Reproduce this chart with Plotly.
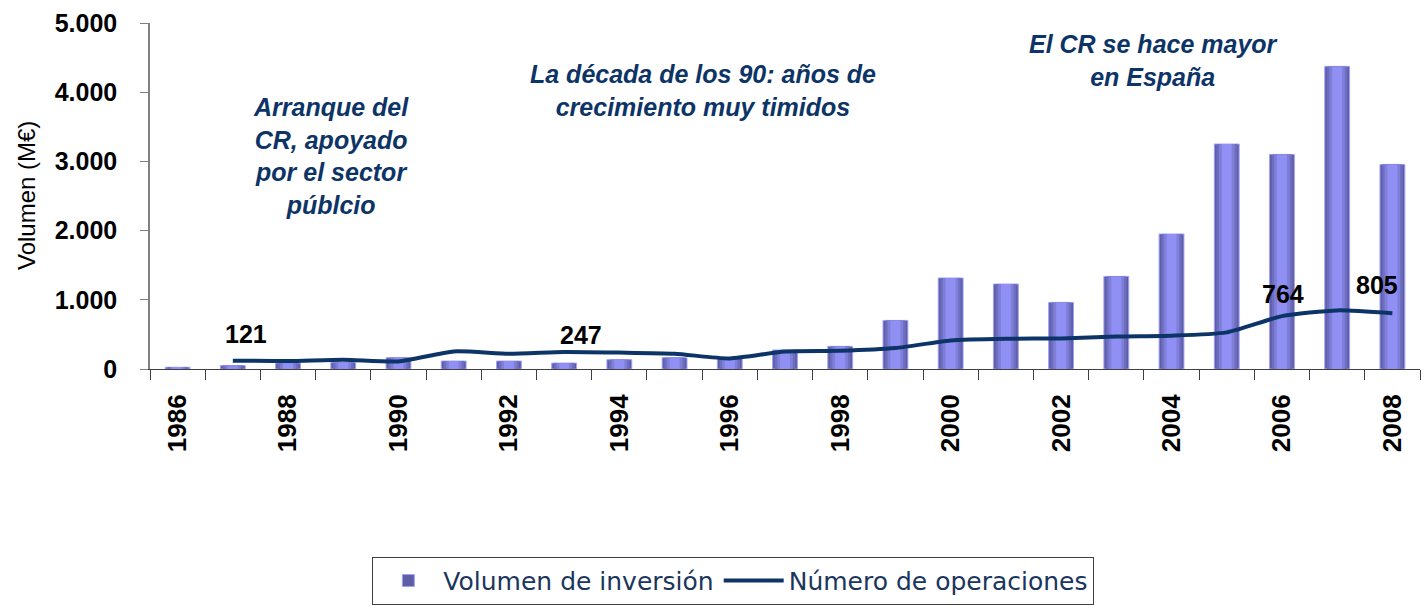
import plotly.graph_objects as go

years = list(range(1986, 2009))
volumen = [25, 50, 85, 96, 163, 115, 115, 86, 134, 163, 153, 275, 327, 702,
           1315, 1228, 962, 1338, 1951, 3251, 3101, 4373, 2957]
op_years = list(range(1987, 2009))
operaciones = [121, 115, 134, 110, 254, 221, 247, 238, 221, 153, 254, 264, 303,
               413, 438, 442, 471, 481, 529, 764, 847, 805]
labeled_years = [1987, 1993, 2006, 2008]
tick_years = list(range(1986, 2009, 2))
y_ticks = [0, 1000, 2000, 3000, 4000, 5000]

NAVY = "#0d3466"
fig = go.Figure()

# layered bars to imitate the cylinder-like gradient
layers = [(0.45, "#5e5ea6", True), (0.37, "#6e6ec0", False),
          (0.28, "#7f7fda", False), (0.18, "#9090f4", False)]
for i, (w, c, show) in enumerate(layers):
    fig.add_trace(go.Bar(
        x=years, y=volumen, width=w,
        marker=dict(color=c, line=dict(color="#a0a0ff" if i == 0 else c, width=1 if i == 0 else 0)),
        name="Volumen de inversión", showlegend=show, legendgroup="vol",
        hoverinfo="skip" if i else None,
    ))

fig.add_trace(go.Scatter(
    x=op_years, y=operaciones, mode="lines", name="Número de operaciones",
    line=dict(color=NAVY, width=4, shape="spline", smoothing=0.6),
))

# data labels
shifts = {1987: (13, 27), 1993: (17, 17), 2006: (1, 22), 2008: (-15, 28)}
for yr in labeled_years:
    v = operaciones[op_years.index(yr)]
    dx, dy = shifts[yr]
    fig.add_annotation(x=yr, y=v, text=f"<b>{v}</b>", showarrow=False,
                       xanchor="center", yanchor="middle", xshift=dx, yshift=dy,
                       font=dict(family="Liberation Sans", size=25, color="black"))

ann_font = dict(family="Liberation Sans", size=25, color=NAVY)
notes = [
    ("Arranque del<br>CR, apoyado<br>por el sector<br>públcio", 0.1425, 0.616),
    ("La década de los 90: años de<br>crecimiento muy timidos", 0.4354, 0.804),
    ("El CR se hace mayor<br>en España", 0.790, 0.891),
]
for t, x, y in notes:
    fig.add_annotation(x=x, y=y, xref="paper", yref="paper", text=f"<b><i>{t}</i></b>",
                       showarrow=False, xanchor="center", yanchor="middle", align="center",
                       font=ann_font)

fig.add_annotation(x=-0.0976, y=0.5, xref="paper", yref="paper", text="Volumen (M€)",
                   textangle=-90, showarrow=False, xanchor="center", yanchor="middle",
                   font=dict(family="Liberation Sans", size=24, color="black"))

fig.update_layout(
    width=1424, height=606,
    margin=dict(l=150, r=4, t=23, b=237),
    paper_bgcolor="white", plot_bgcolor="white",
    barmode="overlay", separators=",.",
    font=dict(family="Liberation Sans", color="black"),
    legend=dict(orientation="h", xref="container", yref="container", x=0.515, y=0.002,
                xanchor="center", yanchor="bottom",
                bordercolor="#404040", borderwidth=1, bgcolor="white",
                font=dict(family="DejaVu Sans", size=25, color="#1b365d"),
                itemwidth=60, traceorder="normal"),
    showlegend=True,
)
fig.update_xaxes(
    range=[1985.5, 2008.5], tickmode="array", tickvals=tick_years,
    ticktext=[str(y) for y in tick_years], tickangle=-90, ticks="",
    tickfont=dict(family="Liberation Sans", size=26, color="black", weight="bold"),
    showline=True, linecolor="#404040", linewidth=1, showgrid=False, zeroline=False,
    ticklabelstandoff=14,
    minor=dict(tick0=1985.5, dtick=1, ticks="outside", ticklen=10, tickcolor="#404040",
               tickwidth=1, showgrid=False),
)
fig.update_yaxes(
    range=[0, 5000], tickmode="array", tickvals=y_ticks, tickformat=",d",
    ticks="outside", ticklen=8, tickcolor="#808080",
    tickfont=dict(family="Liberation Sans", size=25, color="black", weight="bold"),
    showline=True, linecolor="#808080", linewidth=1.5, showgrid=False, zeroline=False,
    ticklabelstandoff=18,
)

fig.write_html("out.html", config={"displayModeBar": False},
               post_script="document.body.style.margin='0';")
